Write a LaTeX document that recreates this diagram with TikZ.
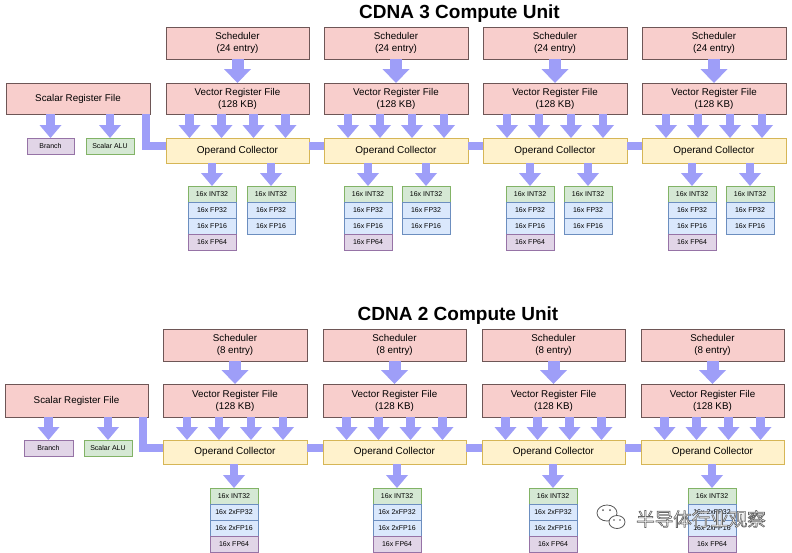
\documentclass[tikz,border=0pt]{standalone}
\usepackage{fontspec}
\setmainfont{Liberation Sans}
\newfontfamily\cjk{Noto Sans CJK SC}
\usetikzlibrary{arrows.meta,calc}
\definecolor{pinkfill}{HTML}{F8CECC}
\definecolor{pinkline}{HTML}{6E5656}
\definecolor{yelfill}{HTML}{FFF2CC}
\definecolor{yelline}{HTML}{D6B656}
\definecolor{grnfill}{HTML}{D5E8D4}
\definecolor{grnline}{HTML}{82B366}
\definecolor{blufill}{HTML}{DAE8FC}
\definecolor{bluline}{HTML}{6C8EBF}
\definecolor{purfill}{HTML}{E1D5E7}
\definecolor{purline}{HTML}{9673A6}
\definecolor{arrowc}{HTML}{9E9EF8}
\tikzset{
 base/.style={inner sep=0pt, outer sep=0pt, line width=0.9pt, align=center, font=\fontsize{9.8}{12}\selectfont},
 pinkbox/.style={base, fill=pinkfill, draw=pinkline},
 ocbox/.style={base, fill=yelfill, draw=yelline, font=\fontsize{10}{12}\selectfont},
 intbox/.style={base, fill=grnfill, draw=grnline, font=\fontsize{7}{8}\selectfont},
 fpbox/.style={base, fill=blufill, draw=bluline, font=\fontsize{7}{8}\selectfont},
 f64box/.style={base, fill=purfill, draw=purline, font=\fontsize{7}{8}\selectfont},
 flow/.style={draw=arrowc, line width=8.5pt, line cap=butt, -{Triangle[width=22pt,length=13pt,line width=0pt]}},
 bigflow/.style={draw=arrowc, line width=12pt, line cap=butt, -{Triangle[width=27pt,length=14pt,line width=0pt]}},
 bus/.style={draw=arrowc, line width=8pt, line cap=butt},
 titletext/.style={font=\bfseries\fontsize{19}{22}\selectfont, anchor=base, inner sep=0pt},
 wm/.style={font=\cjk\fontsize{18.5}{20}\selectfont, inner sep=0pt},
}
\newcommand\bx[7]{%
 \pgfmathsetmacro\bxw{#4-#2}\pgfmathsetmacro\bxh{#5-#3}%
 \pgfmathsetmacro\bxcx{(#2+#4)/2}\pgfmathsetmacro\bxcy{(#3+#5)/2}%
 \node[#6, minimum width=\bxw pt, minimum height=\bxh pt] (#1) at (\bxcx,\bxcy) {#7};}
\newcommand\outlinetext[1]{\special{pdf:literal direct 1 1 1 rg 0.4 0.4 0.4 RG 0.6 w 2 Tr}#1\special{pdf:literal direct 0 Tr 0 0 0 rg 0 0 0 RG}}
\begin{document}
\begin{tikzpicture}[x=1pt,y=-1pt]
\fill[white] (0,0) rectangle (792,552);
\useasboundingbox (0,0) rectangle (792,552);

% ================= CDNA 3 =================
\node[titletext] (t3) at (459.5,18) {CDNA 3 Compute Unit};
\bx{srf3}{6}{83}{150}{114}{pinkbox}{Scalar Register File}
\bx{br3}{27}{138}{74}{154}{f64box}{Branch}
\bx{alu3}{86}{138}{134}{154}{intbox}{Scalar ALU}
\draw[flow] (srf3.south -| br3.north) -- (br3.north);
\draw[flow] (srf3.south -| alu3.north) -- (alu3.north);

\foreach \i/\l/\r/\ca/\cb in {1/166/309/188/247, 2/324/468/344/402, 3/483/627/506/564, 4/642/786/668/726} {
 \pgfmathsetmacro\cae{\ca+48}
 \pgfmathsetmacro\cbe{\cb+48}
 \bx{sA\i}{\l}{27}{\r}{59}{pinkbox}{Scheduler\\(24 entry)}
 \bx{vA\i}{\l}{83}{\r}{114}{pinkbox}{Vector Register File\\(128 KB)}
 \bx{oA\i}{\l}{138}{\r}{163}{ocbox}{Operand Collector}
 \bx{xA\i-a1}{\ca}{186}{\cae}{202}{intbox}{16x INT32}
 \bx{xA\i-a2}{\ca}{202}{\cae}{218}{fpbox}{16x FP32}
 \bx{xA\i-a3}{\ca}{218}{\cae}{234}{fpbox}{16x FP16}
 \bx{xA\i-a4}{\ca}{234}{\cae}{250}{f64box}{16x FP64}
 \bx{xA\i-b1}{\cb}{186}{\cbe}{202}{intbox}{16x INT32}
 \bx{xA\i-b2}{\cb}{202}{\cbe}{218}{fpbox}{16x FP32}
 \bx{xA\i-b3}{\cb}{218}{\cbe}{234}{fpbox}{16x FP16}
 \draw[bigflow] (sA\i.south) -- (vA\i.north);
 \foreach \d in {-48,-16,16,48}
  \draw[flow] ([xshift=\d pt]vA\i.south) -- ([xshift=\d pt]oA\i.north);
 \draw[flow] (oA\i.south -| xA\i-a1.north) -- (xA\i-a1.north);
 \draw[flow] (oA\i.south -| xA\i-b1.north) -- (xA\i-b1.north);
}
\draw[bus] ([xshift=-4pt]srf3.south east) |- ([yshift=5pt]oA1.west);
\draw[bus] ([yshift=5pt]oA1.east) -- ([yshift=5pt]oA2.west);
\draw[bus] ([yshift=5pt]oA2.east) -- ([yshift=5pt]oA3.west);
\draw[bus] ([yshift=5pt]oA3.east) -- ([yshift=5pt]oA4.west);

% ================= CDNA 2 =================
\node[titletext] (t2) at (458,320) {CDNA 2 Compute Unit};
\bx{srf2}{5}{384}{148}{417}{pinkbox}{Scalar Register File}
\bx{br2}{24}{440}{73}{456}{f64box}{Branch}
\bx{alu2}{84}{440}{132}{456}{intbox}{Scalar ALU}
\draw[flow] (srf2.south -| br2.north) -- (br2.north);
\draw[flow] (srf2.south -| alu2.north) -- (alu2.north);

\foreach \i/\l/\r/\ca in {1/163/307/210, 2/323/466/373, 3/482/625/529, 4/641/784/688} {
 \pgfmathsetmacro\cae{\ca+48}
 \bx{sB\i}{\l}{329}{\r}{361}{pinkbox}{Scheduler\\(8 entry)}
 \bx{vB\i}{\l}{384}{\r}{417}{pinkbox}{Vector Register File\\(128 KB)}
 \bx{oB\i}{\l}{440}{\r}{464}{ocbox}{Operand Collector}
 \bx{xB\i-a1}{\ca}{488}{\cae}{504}{intbox}{16x INT32}
 \bx{xB\i-a2}{\ca}{504}{\cae}{520}{fpbox}{16x 2xFP32}
 \bx{xB\i-a3}{\ca}{520}{\cae}{536}{fpbox}{16x 2xFP16}
 \bx{xB\i-a4}{\ca}{536}{\cae}{552}{f64box}{16x FP64}
 \draw[bigflow] (sB\i.south) -- (vB\i.north);
 \foreach \d in {-48,-16,16,48}
  \draw[flow] ([xshift=\d pt]vB\i.south) -- ([xshift=\d pt]oB\i.north);
 \draw[flow] (oB\i.south -| xB\i-a1.north) -- (xB\i-a1.north);
}
\draw[bus] ([xshift=-5pt]srf2.south east) |- ([yshift=4.5pt]oB1.west);
\draw[bus] ([yshift=4.5pt]oB1.east) -- ([yshift=4.5pt]oB2.west);
\draw[bus] ([yshift=4.5pt]oB2.east) -- ([yshift=4.5pt]oB3.west);
\draw[bus] ([yshift=4.5pt]oB3.east) -- ([yshift=4.5pt]oB4.west);

% ================= watermark =================
\draw[gray!70!black, line width=0.8pt, fill=white] (607,513) ellipse [x radius=10pt, y radius=8pt];
\draw[gray!70!black, line width=0.8pt, fill=white] (617,522) ellipse [x radius=8pt, y radius=6.5pt];
\fill[gray!70!black] (603,510) circle[radius=1pt] (610,510) circle[radius=1pt];
\fill[gray!70!black] (614,520) circle[radius=0.8pt] (620,520) circle[radius=0.8pt];
\node[wm] (wm) at (701,519) {\outlinetext{半导体行业观察}};
\end{tikzpicture}
\end{document}
